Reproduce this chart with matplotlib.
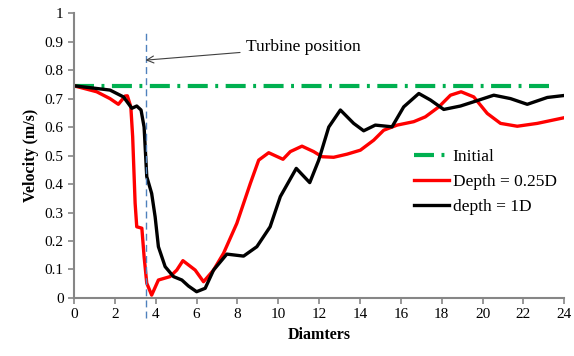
import matplotlib
matplotlib.use("Agg")
import matplotlib.pyplot as plt

# red curve: Depth = 0.25D
x_red = [0, 1.11, 1.76, 2.17, 2.5, 2.61, 2.78, 2.87, 2.99, 3.07, 3.32, 3.43, 3.56,
         3.8, 4.13, 4.7, 5.03, 5.33, 5.93, 6.34, 6.83, 7.32, 7.97, 8.63, 9.04, 9.53,
         10.23, 10.59, 11.16, 11.73, 12.14, 12.71, 13.37, 14.02, 14.67, 15.16, 15.82,
         16.63, 17.2, 17.86, 18.43, 18.95, 19.57, 20.23, 20.88, 21.7, 22.68, 24]
y_red = [0.745, 0.724, 0.70, 0.68, 0.709, 0.71, 0.671, 0.566, 0.333, 0.25, 0.245,
         0.145, 0.052, 0.01, 0.063, 0.075, 0.098, 0.131, 0.098, 0.057, 0.098, 0.157,
         0.262, 0.402, 0.484, 0.51, 0.487, 0.514, 0.533, 0.514, 0.496, 0.494, 0.505,
         0.519, 0.554, 0.589, 0.607, 0.619, 0.636, 0.671, 0.712, 0.724, 0.706, 0.648,
         0.613, 0.603, 0.613, 0.633]

# black curve: depth = 1D
x_blk = [0, 1.76, 2.42, 2.83, 3.07, 3.28, 3.43, 3.56, 3.8, 3.97, 4.13, 4.46, 4.87,
         5.28, 5.6, 6.0, 6.42, 6.83, 7.48, 8.3, 8.95, 9.6, 10.1, 10.88, 11.54, 11.98,
         12.47, 13.04, 13.69, 14.18, 14.75, 15.57, 16.14, 16.88, 17.45, 18.1, 18.92,
         19.57, 20.55, 21.37, 22.19, 23.17, 24]
y_blk = [0.745, 0.73, 0.706, 0.666, 0.674, 0.66, 0.60, 0.426, 0.367, 0.285, 0.18,
         0.11, 0.075, 0.063, 0.042, 0.022, 0.034, 0.098, 0.154, 0.147, 0.18, 0.25,
         0.356, 0.455, 0.405, 0.484, 0.60, 0.66, 0.613, 0.587, 0.607, 0.601, 0.671,
         0.718, 0.695, 0.662, 0.674, 0.689, 0.712, 0.70, 0.68, 0.704, 0.711]

x_init = [0, 23.5]
y_init = [0.745, 0.745]

turbine_x = 3.5

plt.rcParams['font.family'] = ['Liberation Serif', 'DejaVu Serif']

fig = plt.figure(figsize=(5.74, 3.56), dpi=100)
ax = fig.add_axes([0.129, 0.163, 0.854, 0.8])

ax.plot(x_init, y_init, color="#00B050", lw=3, dashes=(4.8, 1.8, 0.7, 1.8), label="Initial")
ax.plot(x_red, y_red, color="#FF0000", lw=2.4, solid_joinstyle="round", label="Depth = 0.25D")
ax.plot(x_blk, y_blk, color="black", lw=2.4, solid_joinstyle="round", label="depth = 1D")

ax.plot([turbine_x, turbine_x], [-0.07, 0.94], color="#4F81BD", lw=1, ls=(0, (5, 3)), clip_on=False)
ax.annotate("Turbine position", xy=(turbine_x, 0.835), xytext=(8.4, 0.88),
            fontsize=12.5, va="center",
            arrowprops=dict(arrowstyle="->", color="#404040", lw=0.8, shrinkA=2, shrinkB=0))

ax.set_xlim(0, 24)
ax.set_ylim(0, 1)
ax.set_xticks(range(0, 25, 2))
ax.set_yticks([i / 10 for i in range(11)])
ax.set_yticklabels(["0", "0.1", "0.2", "0.3", "0.4", "0.5", "0.6", "0.7", "0.8", "0.9", "1"])

for s in ["top", "right"]:
    ax.spines[s].set_visible(False)
for s in ["left", "bottom"]:
    ax.spines[s].set_color("#868686")
    ax.spines[s].set_linewidth(1.5)
ax.tick_params(axis="both", direction="out", length=4, width=1.2, color="#868686", labelsize=11)

ax.set_xlabel("Diamters", fontsize=11.5, fontweight="bold")
ax.set_ylabel("Velocity (m/s)", fontsize=11.5, fontweight="bold")

ax.legend(loc="upper left", bbox_to_anchor=(0.68, 0.548), frameon=False, fontsize=12.5,
          handlelength=2.0, handletextpad=0.2, labelspacing=0.5, borderaxespad=0)

fig.savefig("out.png", dpi=100)
